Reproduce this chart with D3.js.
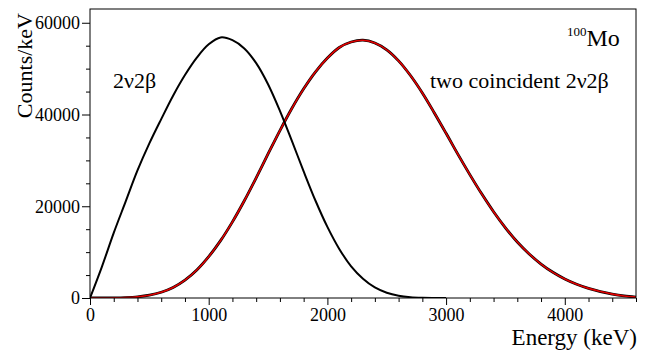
<!DOCTYPE html>
<html>
<head>
<meta charset="utf-8">
<script src="https://cdn.jsdelivr.net/npm/d3@7"></script>
<style>
  body { margin: 0; background: #fff; }
</style>
</head>
<body>
<div id="chart"></div>
<script>
// energy grid (keV), 100 keV steps
var energySingle = [0,100,200,300,400,500,600,700,800,900,1000,1100,1200,1300,1400,1500,
  1600,1700,1800,1900,2000,2100,2200,2300,2400,2500,2600,2700,2800,2900,3000];
// 2v2b sum energy spectrum, counts/keV
var countsSingle = [0,6800,14200,21000,27800,33700,39000,44100,48600,52400,55300,56800,
  56200,54400,51200,46600,40800,34300,27600,21200,15500,10700,6900,4200,2300,1150,500,180,50,10,0];

var energyDouble = [0,100,200,300,400,500,600,700,800,900,1000,1100,1200,1300,1400,1500,
  1600,1700,1800,1900,2000,2100,2200,2300,2400,2500,2600,2700,2800,2900,3000,3100,3200,
  3300,3400,3500,3600,3700,3800,3900,4000,4100,4200,4300,4400,4500,4600];
// two coincident 2v2b, counts/keV
var countsDouble = [0,5,25,90,250,600,1250,2300,3900,6100,9000,12500,16600,21200,26200,31400,
  36500,41300,45600,49300,52300,54600,55800,56200,55600,54100,51700,48500,44700,40400,35900,
  31300,26900,22700,18800,15300,12200,9600,7400,5600,4150,3000,2100,1400,850,450,200];

var xTicks = [0,1000,2000,3000,4000];
var yTicks = [0,20000,40000,60000];

var serif = "'Liberation Serif'";

var W = 647, H = 354;
var x = d3.scaleLinear().domain([0, 4600]).range([90, 636]);
var y = d3.scaleLinear().domain([0, 63000]).range([298, 9]);

var svg = d3.select("#chart").append("svg")
  .attr("width", W).attr("height", H);

svg.append("defs").append("clipPath").attr("id", "clip")
  .append("rect").attr("x", 90).attr("y", 9).attr("width", 546).attr("height", 289);

var line = d3.line()
  .x(function(d){ return x(d[0]); })
  .y(function(d){ return y(d[1]); })
  .curve(d3.curveCatmullRom.alpha(0.5));

var single = d3.zip(energySingle, countsSingle);
var dbl = d3.zip(energyDouble, countsDouble);

var g = svg.append("g").attr("clip-path", "url(#clip)");

// histogram underneath the fit
g.append("path").datum(dbl)
  .attr("d", line).attr("fill", "none")
  .attr("stroke", "#000").attr("stroke-width", 2.8);
g.append("path").datum(dbl)
  .attr("d", line).attr("fill", "none")
  .attr("stroke", "#e00000").attr("stroke-width", 1.6);

g.append("path").datum(single)
  .attr("d", line).attr("fill", "none")
  .attr("stroke", "#000").attr("stroke-width", 2);

// frame
svg.append("rect")
  .attr("x", 90).attr("y", 9).attr("width", 546).attr("height", 289)
  .attr("fill", "none").attr("stroke", "#000").attr("stroke-width", 1);

// x axis
var xMinor = d3.range(0, 4601, 200).filter(function(v){ return v % 1000 != 0; });
svg.append("g").attr("transform", "translate(0,298)")
  .call(d3.axisBottom(x).tickValues(xMinor).tickSize(4).tickFormat(""))
  .call(function(a){ a.select(".domain").remove(); });
var xa = svg.append("g").attr("transform", "translate(0,298)")
  .call(d3.axisBottom(x).tickValues(xTicks).tickSize(7).tickPadding(3).tickFormat(d3.format("d")));
xa.select(".domain").remove();

// y axis
var yMinor = d3.range(0, 63001, 5000).filter(function(v){ return v % 20000 != 0; });
svg.append("g").attr("transform", "translate(90,0)")
  .call(d3.axisLeft(y).tickValues(yMinor).tickSize(4).tickFormat(""))
  .call(function(a){ a.select(".domain").remove(); });
var ya = svg.append("g").attr("transform", "translate(90,0)")
  .call(d3.axisLeft(y).tickValues(yTicks).tickSize(8).tickPadding(2).tickFormat(d3.format("d")));
ya.select(".domain").remove();

svg.selectAll(".tick line").attr("stroke", "#000");
svg.selectAll(".tick text").style("font-family", serif).style("font-size", "18px").attr("fill", "#000");

// titles
svg.append("text")
  .attr("text-anchor", "end")
  .attr("x", 637).attr("y", 345)
  .style("font-family", serif).style("font-size", "23px")
  .text("Energy (keV)");

svg.append("text")
  .attr("text-anchor", "end")
  .attr("transform", "translate(32,13) rotate(-90)")
  .style("font-family", serif).style("font-size", "22px")
  .text("Counts/keV");

svg.append("text")
  .attr("x", 113).attr("y", 88)
  .style("font-family", serif).style("font-size", "22px")
  .text("2ν2β");

svg.append("text")
  .attr("x", 430).attr("y", 88)
  .style("font-family", serif).style("font-size", "22px")
  .text("two coincident 2ν2β");

var mo = svg.append("text").attr("x", 567).attr("y", 46)
  .style("font-family", serif).style("font-size", "24px");
mo.append("tspan").attr("dy", -10).style("font-size", "13px").text("100");
mo.append("tspan").attr("dy", 10).text("Mo");
</script>
</body>
</html>
